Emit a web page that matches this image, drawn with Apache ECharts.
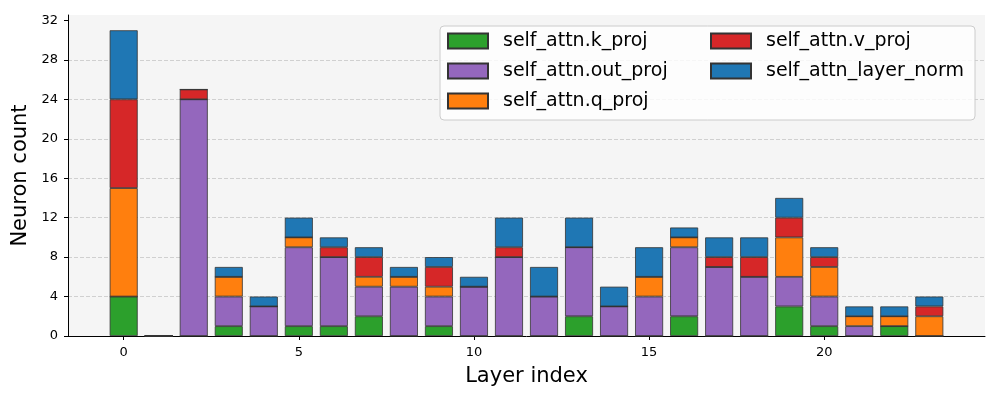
<!DOCTYPE html>
<html>
<head>
<meta charset="utf-8">
<script src="https://cdn.jsdelivr.net/npm/echarts@6/dist/echarts.min.js"></script>
<style>
html,body{margin:0;padding:0;background:#fff;}
#chart{width:1000px;height:400px;}
</style>
</head>
<body>
<div id="chart"></div>
<script>
const layers = [0,1,2,3,4,5,6,7,8,9,10,11,12,13,14,15,16,17,18,19,20,21,22,23];
const kProj   = [4,0,0,1,0,1,1,2,0,1,0,0,0,2,0,0,2,0,0,3,1,0,1,0];
const outProj = [0,0,24,3,3,8,7,3,5,3,5,8,4,7,3,4,7,7,6,3,3,1,0,0];
const qProj   = [11,0,0,2,0,1,0,1,1,1,0,0,0,0,0,2,1,0,0,4,3,1,1,2];
const vProj   = [9,0,1,0,0,0,1,2,0,2,0,1,0,0,0,0,0,1,2,2,1,0,0,1];
const layerNorm = [7,0,0,1,1,2,1,1,1,1,1,3,3,3,2,3,1,2,2,2,1,1,1,1];
const xTicks = [0,5,10,15,20];
const yTicks = [0,4,8,12,16,20,24,28,32];

const seriesDefs = [
  {name:'self_attn.k_proj', data:kProj, color:'#2ca02c'},
  {name:'self_attn.out_proj', data:outProj, color:'#9467bd'},
  {name:'self_attn.q_proj', data:qProj, color:'#ff7f0e'},
  {name:'self_attn.v_proj', data:vProj, color:'#d62728'},
  {name:'self_attn_layer_norm', data:layerNorm, color:'#1f77b4'}
];

const font = 'DejaVu Sans';
const chart = echarts.init(document.getElementById('chart'), null, {renderer:'canvas'});
const legendCommon = {
  orient:'vertical', padding:0, itemWidth:40, itemHeight:15, itemGap:8, icon:'rect',
  textStyle:{fontFamily:font, fontSize:19, color:'#000', lineHeight:22, padding:[0,0,0,10]},
  selectedMode:false, z:5
};
chart.setOption({
  animation:false,
  backgroundColor:'#fff',
  textStyle:{fontFamily:font},
  grid:{left:68, right:15, top:15, bottom:64, show:true, backgroundColor:'#f5f5f5', borderWidth:0},
  graphic:[{type:'rect', z:4, shape:{x:440, y:26, width:535, height:94, r:4},
    style:{fill:'rgba(255,255,255,0.8)', stroke:'#cccccc', lineWidth:1}}],
  legend:[
    Object.assign({left:447, top:30, data:seriesDefs.slice(0,3).map(s=>s.name)}, legendCommon),
    Object.assign({left:710, top:30, data:seriesDefs.slice(3).map(s=>s.name)}, legendCommon)
  ],
  xAxis:{
    type:'value', min:-1.59, max:24.59,
    name:'Layer index', nameLocation:'middle', nameGap:30,
    nameTextStyle:{fontFamily:font, fontSize:21, color:'#000'},
    axisLine:{show:true, onZero:false, lineStyle:{color:'#000', width:1}},
    axisTick:{show:true, length:4, customValues:xTicks, lineStyle:{color:'#000'}},
    axisLabel:{customValues:xTicks, fontFamily:font, fontSize:13, color:'#000', margin:10},
    splitLine:{show:false}
  },
  yAxis:{
    type:'value', min:0, max:32.55, interval:4,
    name:'Neuron count', nameLocation:'middle', nameGap:34,
    nameTextStyle:{fontFamily:font, fontSize:21, color:'#000'},
    axisLine:{show:true, onZero:false, lineStyle:{color:'#000', width:1}},
    axisTick:{show:true, length:4, customValues:yTicks, lineStyle:{color:'#000'}},
    axisLabel:{customValues:yTicks, fontFamily:font, fontSize:13, color:'#000', margin:10},
    splitLine:{show:true, showMaxLine:false, showMinLine:false, lineStyle:{color:'#d0d0d0', type:[4,2], width:1}}
  },
  series: seriesDefs.map(s => ({
    name:s.name, type:'bar', stack:'total', barWidth:28,
    encode:{x:1, y:0},
    data: layers.map((l,i) => [s.data[i], l]),
    itemStyle:{color:s.color, borderColor:'#333333', borderWidth:0.8}
  }))
});
</script>
</body>
</html>
